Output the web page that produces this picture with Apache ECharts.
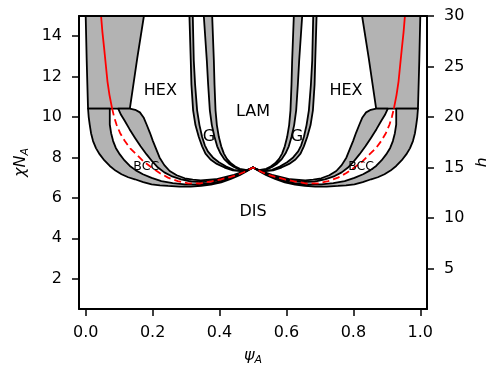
<!DOCTYPE html>
<html>
<head>
<meta charset="utf-8">
<script src="https://cdn.jsdelivr.net/npm/echarts@6/dist/echarts.min.js"></script>
<style>
html,body{margin:0;padding:0;background:#fff}
#main{width:486px;height:366px}
</style>
</head>
<body>
<div id="main"></div>
<script>
// left half of the diagram, [psiA, chiN]; right half is its mirror image
var hexOuterEdge = [[0.0,15],[0.003,12.8],[0.007,10.42]]
var hexInnerEdge = [[0.174,15],[0.154,12.9],[0.132,10.42]]

var disCurve = [[0.007,10.42],[0.009,10.0],[0.012,9.63],[0.016,9.2],[0.022,8.81],[0.031,8.45],[0.042,8.15],[0.056,7.85],[0.072,7.58],[0.089,7.35],[0.107,7.17],[0.127,7.02],[0.147,6.92],[0.172,6.78],[0.197,6.67],[0.222,6.62],[0.246,6.59],[0.28,6.56],[0.314,6.56],[0.345,6.59],[0.374,6.65],[0.405,6.77],[0.434,6.94],[0.46,7.12],[0.479,7.29],[0.5,7.5]]
var bccOuter = [[0.072,10.42],[0.072,10.0],[0.072,9.63],[0.076,9.2],[0.082,8.81],[0.09,8.47],[0.102,8.15],[0.116,7.85],[0.132,7.58],[0.15,7.36],[0.171,7.17],[0.197,6.99],[0.226,6.83],[0.26,6.73],[0.296,6.67],[0.335,6.67],[0.374,6.72],[0.405,6.83],[0.434,6.99],[0.46,7.16],[0.479,7.31],[0.5,7.5]]
var bccInner = [[0.097,10.42],[0.106,10.1],[0.117,9.8],[0.131,9.4],[0.147,8.98],[0.164,8.55],[0.182,8.15],[0.199,7.8],[0.216,7.5],[0.235,7.26],[0.256,7.08],[0.285,6.92],[0.316,6.8],[0.348,6.78],[0.38,6.82],[0.41,6.92],[0.44,7.07],[0.462,7.2],[0.482,7.34],[0.5,7.5]]
var hexLower = [[0.132,10.42],[0.148,10.36],[0.162,10.23],[0.173,9.98],[0.182,9.63],[0.192,9.22],[0.201,8.81],[0.211,8.4],[0.221,7.99],[0.235,7.62],[0.251,7.33],[0.272,7.12],[0.296,6.97],[0.32,6.9],[0.344,6.87],[0.389,6.92],[0.443,7.14],[0.482,7.36],[0.5,7.5]]

var gyrA = [[0.31,15],[0.314,12.8],[0.316,11.6],[0.321,10.33],[0.328,9.6],[0.338,9.01],[0.348,8.55],[0.358,8.19],[0.373,7.9],[0.392,7.68],[0.415,7.5],[0.44,7.36],[0.462,7.32],[0.479,7.34],[0.5,7.5]]
var gyrB = [[0.32,15],[0.323,12.8],[0.327,11.6],[0.333,10.33],[0.34,9.6],[0.348,9.01],[0.356,8.6],[0.365,8.3],[0.38,8.0],[0.398,7.76],[0.42,7.55],[0.443,7.39],[0.462,7.34],[0.479,7.35],[0.5,7.5]]
var gyrC = [[0.353,15],[0.362,12.8],[0.366,11.6],[0.371,10.33],[0.377,9.6],[0.385,9.01],[0.393,8.55],[0.403,8.19],[0.414,7.92],[0.428,7.69],[0.443,7.53],[0.458,7.41],[0.482,7.36],[0.5,7.5]]
var gyrD = [[0.378,15],[0.383,12.8],[0.385,11.6],[0.388,10.33],[0.392,9.6],[0.398,9.01],[0.405,8.55],[0.413,8.19],[0.422,7.93],[0.434,7.71],[0.447,7.55],[0.461,7.44],[0.482,7.37],[0.5,7.5]]

var redSolid = [[0.046,15],[0.05,14.2],[0.055,13.42],[0.06,12.6],[0.065,11.77],[0.071,11.1],[0.079,10.42]]
var redDash = [[0.079,10.42],[0.085,10.0],[0.092,9.63],[0.103,9.2],[0.117,8.81],[0.133,8.45],[0.152,8.15],[0.173,7.8],[0.197,7.5],[0.221,7.23],[0.246,7.0],[0.275,6.83],[0.306,6.72],[0.34,6.71],[0.377,6.82],[0.405,6.92],[0.434,7.04],[0.455,7.15],[0.474,7.28],[0.5,7.5]]

var phaseLabels = [[0.223,11.28,'HEX',16],[0.778,11.28,'HEX',16],[0.5,10.28,'LAM',16],[0.368,9.02,'G',16],[0.631,9.02,'G',16],[0.181,7.52,'BCC',12.5],[0.823,7.52,'BCC',12.5],[0.5,5.29,'DIS',16]]

var xTicks = [0,0.2,0.4,0.6,0.8,1.0]
var chiTicks = [2,4,6,8,10,12,14]
var hTicks = [5,10,15,20,25,30]

var font = 'DejaVu Sans'

function mirror(arr){ return arr.map(function(p){ return [1 - p[0], p[1]] }) }
function band(a, b){ return a.concat(b.slice().reverse()) }

var polys = [band(hexOuterEdge, hexInnerEdge), band(disCurve, bccOuter), band(bccInner, hexLower), band(gyrA, gyrB), band(gyrC, gyrD)]
polys = polys.concat(polys.map(mirror))

var series = []
polys.forEach(function(pts){
    series.push({
        type: 'custom',
        z: 2,
        data: [[0.5, 7.5]],
        renderItem: function(params, api){
            return {
                type: 'polygon',
                shape: {points: pts.map(function(p){ return api.coord(p) })},
                style: {fill: '#b3b3b3', stroke: '#000', lineWidth: 1.8, lineJoin: 'round'}
            }
        }
    })
})
;[redSolid, mirror(redSolid)].forEach(function(d){
    series.push({type: 'line', z: 4, data: d, symbol: 'none', lineStyle: {color: '#ff0000', width: 1.8}})
})
series.push({type: 'line', z: 4, data: redDash.concat(mirror(redDash).reverse().slice(1)), symbol: 'none',
    lineStyle: {color: '#ff0000', width: 1.8, type: [7, 4]}})
phaseLabels.forEach(function(l){
    series.push({
        type: 'scatter', z: 5, symbolSize: 1, silent: true,
        itemStyle: {opacity: 0},
        label: {show: true, position: 'inside', formatter: l[2], fontSize: l[3], color: '#000', fontFamily: font, opacity: 1},
        data: [[l[0], l[1]]]
    })
})

var myChart = echarts.init(document.getElementById('main'))
myChart.setOption({
    backgroundColor: '#fff',
    animation: false,
    grid: {left: 79, right: 59, top: 16, bottom: 57, outerBoundsMode: 'none', containLabel: false},
    xAxis: [{
        type: 'value', min: -0.02, max: 1.02, position: 'bottom', z: 10,
        axisLine: {onZero: false, lineStyle: {color: '#000', width: 2}},
        axisTick: {customValues: xTicks, length: 7, lineStyle: {color: '#000', width: 1.5}},
        axisLabel: {customValues: xTicks, margin: 16, fontSize: 16, color: '#000', fontFamily: font,
            formatter: function(v){ return v.toFixed(1) }},
        splitLine: {show: false},
        name: '{i|ψ}{s|A}', nameLocation: 'middle', nameGap: 37,
        nameTextStyle: {color: '#000', fontFamily: font, rich: {
            i: {fontSize: 16, fontStyle: 'italic', fontFamily: font, lineHeight: 20, verticalAlign: 'middle'},
            s: {fontSize: 11, fontStyle: 'italic', fontFamily: font, lineHeight: 20, verticalAlign: 'bottom'}}}
    }, {
        type: 'value', min: -0.02, max: 1.02, position: 'top', z: 10,
        axisLine: {onZero: false, lineStyle: {color: '#000', width: 2}},
        axisTick: {show: false}, axisLabel: {show: false}, splitLine: {show: false}
    }],
    yAxis: [{
        type: 'value', min: 0.5, max: 15, position: 'left', z: 10,
        axisLine: {show: true, onZero: false, lineStyle: {color: '#000', width: 2}},
        axisTick: {show: true, customValues: chiTicks, length: 7, lineStyle: {color: '#000', width: 1.5}},
        axisLabel: {customValues: chiTicks, margin: 17, fontSize: 16, color: '#000', fontFamily: font},
        splitLine: {show: false},
        name: '{i|χN}{s|A}', nameLocation: 'middle', nameGap: 45, nameRotate: 90,
        nameTextStyle: {color: '#000', fontFamily: font, rich: {
            i: {fontSize: 16, fontStyle: 'italic', fontFamily: font, lineHeight: 20, verticalAlign: 'middle'},
            s: {fontSize: 11, fontStyle: 'italic', fontFamily: font, lineHeight: 20, verticalAlign: 'bottom'}}}
    }, {
        type: 'value', min: 1, max: 30, position: 'right', z: 10,
        axisLine: {show: true, onZero: false, lineStyle: {color: '#000', width: 2}},
        axisTick: {show: true, customValues: hTicks, length: 7, lineStyle: {color: '#000', width: 1.5}},
        axisLabel: {customValues: hTicks, margin: 17, fontSize: 16, color: '#000', fontFamily: font},
        splitLine: {show: false},
        name: 'h', nameLocation: 'middle', nameGap: 40, nameRotate: 90,
        nameTextStyle: {color: '#000', fontFamily: font, fontSize: 16, fontStyle: 'italic'}
    }],
    series: series
})
</script>
</body>
</html>
